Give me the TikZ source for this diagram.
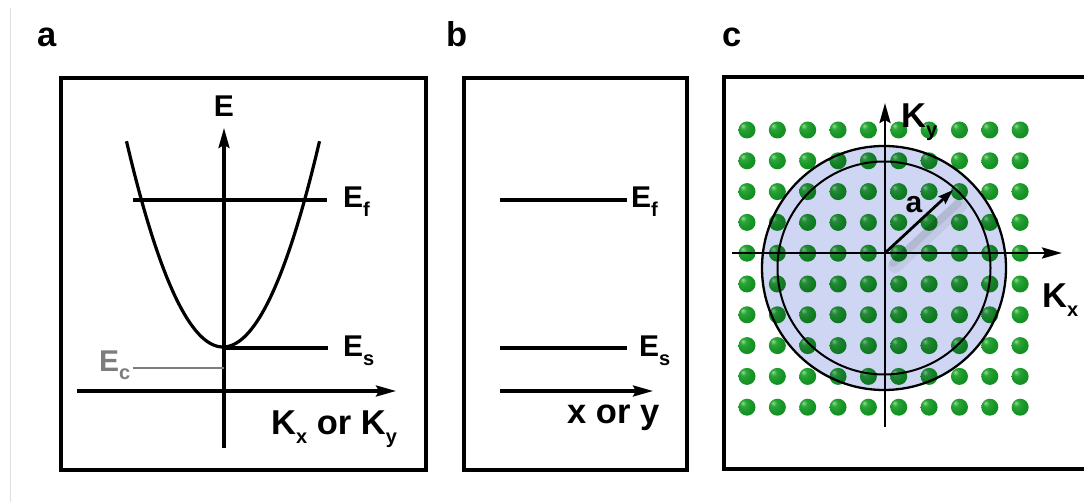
\documentclass[tikz,border=0pt]{standalone}
\usepackage{fontspec}
\setmainfont{Liberation Sans}
\usetikzlibrary{arrows.meta}
\definecolor{dotg}{RGB}{22,150,38}
\definecolor{dotl}{RGB}{140,225,140}
\definecolor{dotd}{RGB}{10,90,20}
\definecolor{discfill}{RGB}{206,214,244}
\definecolor{ecgray}{RGB}{125,125,125}
\pgfdeclareradialshading{greenball}{\pgfpoint{-13bp}{13bp}}{%
  color(0bp)=(dotl); color(9bp)=(dotg!80!dotl); color(22bp)=(dotg);
  color(45bp)=(dotg!85!black); color(62bp)=(dotd)}
\newcommand\sbs[1]{\raisebox{-9pt}{\fontsize{20}{20}\selectfont #1}}
\begin{document}
\begin{tikzpicture}[x=1pt,y=-1pt,
  ln/.style={line width=3.2pt},
  ax/.style={line width=3.2pt,-{Stealth[length=20pt,width=11pt,inset=3pt]}},
  boxline/.style={line width=3.3pt},
  lbl/.style={font=\fontsize{30}{33}\selectfont\bfseries, inner sep=0pt, anchor=base west},
  big/.style={font=\fontsize{34.5}{37}\selectfont\bfseries, inner sep=0pt, anchor=base west},
  dot/.style={circle, inner sep=0pt, minimum size=17pt, shading=greenball}
]
\clip (0,0) rectangle (1084,502);
\fill[white] (0,0) rectangle (1084,502);
\draw[gray!25, line width=1pt] (10,8) -- (10,502);

% panel labels
\node[big] (la) at (37,47) {a};
\node[big] (lb) at (446,47) {b};
\node[big] (lc) at (722,47) {c};

% ---------- panel a ----------
\draw[boxline] (61,78) rectangle (426,470);
\coordinate (ay0) at (224,448);
\coordinate (ay1) at (224,128);
\coordinate (ax0) at (77,391);
\coordinate (ax1) at (396,391);
\draw[ax] (ay0) -- (ay1);
\draw[ax] (ax0) -- (ax1);
\node[lbl, anchor=base] (E) at (224,117) {E};
\draw[ln, domain=-96.5:96.5, samples=80, smooth] plot ({223+\x},{347-0.0221*\x*\x});
\coordinate (ef0) at (133,200); \coordinate (ef1) at (327,200);
\coordinate (es0) at (224,348); \coordinate (es1) at (328,348);
\coordinate (ec0) at (133,368); \coordinate (ec1) at (224,368);
\draw[ln] (ef0) -- (ef1);
\draw[ln] (es0) -- (es1);
\draw[ecgray, line width=2.8pt] (ec0) -- (ec1);
\node[lbl] (Efa) at (343,208) {E\sbs{f}};
\node[lbl] (Esa) at (343,357) {E\sbs{s}};
\node[lbl, text=ecgray] (Eca) at (99,371) {E\sbs{c}};
\node[big] (kk) at (271,434) {K\sbs{x} or K\sbs{y}};

% ---------- panel b ----------
\draw[boxline] (464,78) rectangle (687,470);
\coordinate (bf0) at (500,200); \coordinate (bf1) at (627,200);
\coordinate (bs0) at (500,348); \coordinate (bs1) at (627,348);
\coordinate (bx0) at (500,391); \coordinate (bx1) at (653,391);
\draw[ln] (bf0) -- (bf1);
\draw[ln] (bs0) -- (bs1);
\draw[ax] (bx0) -- (bx1);
\node[lbl] (Efb) at (631,208) {E\sbs{f}};
\node[lbl] (Esb) at (639,357) {E\sbs{s}};
\node[big] (xy) at (567,423) {x or y};

% ---------- panel c ----------
\draw[boxline] (1095,77) -- (724,77) -- (724,469) -- (1095,469);
\foreach \i in {0,...,9}
  \foreach \j in {0,...,9}
    \node[dot] (d-\i-\j) at ({747+30.35*\i},{130+30.8*\j}) {};
\coordinate (cc) at (884,268);
\fill[discfill, blend mode=multiply] (cc) circle[radius=122];
\draw[line width=2.3pt] (cc) circle[radius=122];
\draw[line width=2pt] (cc) circle[radius=106.5];
\coordinate (cy0) at (885,427); \coordinate (cy1) at (885,103);
\coordinate (cx0) at (732,253); \coordinate (cx1) at (1062,253);
\draw[ax, line width=2.8pt] (cy0) -- (cy1);
\draw[ax, line width=2.8pt] (cx0) -- (cx1);
\coordinate (o) at (885,253);
\coordinate (atip) at (953,190);
\draw[black, opacity=0.06, line width=14pt, line cap=round] (895,266) -- (960,206);
\draw[black, opacity=0.08, line width=8pt, line cap=round] (893,263) -- (958,203);
\draw[line width=2.8pt, -{Stealth[length=15pt,width=10pt,inset=2pt]}] (o) -- (atip);
\node[big] (Ky) at (901,128) {K\sbs{y}};
\node[big] (Kx) at (1042,308) {K\sbs{x}};
\node[lbl, anchor=center] (alab) at (914,205) {a};
\end{tikzpicture}
\end{document}
